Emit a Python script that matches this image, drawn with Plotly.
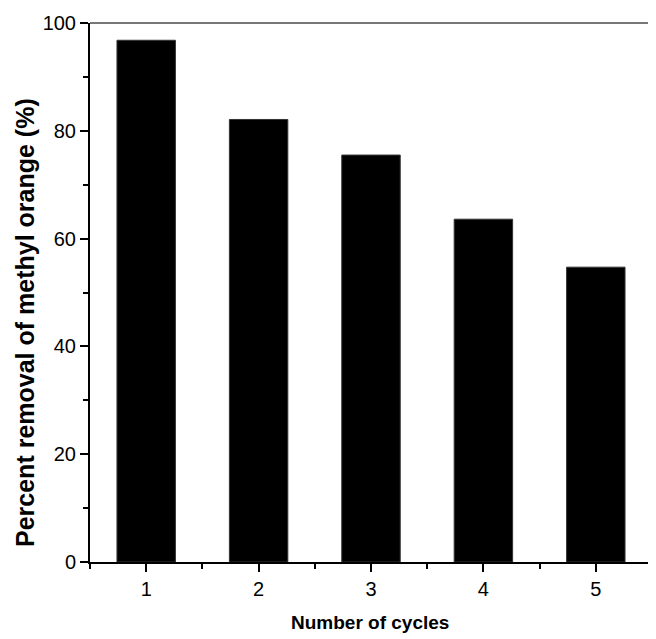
import plotly.graph_objects as go

cycles = [1, 2, 3, 4, 5]
removal = [96.8, 82.1, 75.5, 63.6, 54.7]
y_ticks = [0, 20, 40, 60, 80, 100]

font = "Liberation Sans, Arial, sans-serif"

# page has an 8px body margin, so the figure is sized 648x631 and shifted
W, H = 648, 631
L, R, T, B = 82, 4, 15, 77
pw, ph = W - L - R, H - T - B

fig = go.Figure()
fig.add_trace(go.Bar(
    x=cycles, y=removal, width=0.52,
    marker=dict(color="black", line=dict(color="#333333", width=1)),
))

fig.update_layout(
    width=W, height=H,
    margin=dict(l=L, r=R, t=T, b=B),
    plot_bgcolor="white", paper_bgcolor="white",
    showlegend=False,
    xaxis=dict(
        range=[0.5, 5.5], tickvals=cycles, ticktext=[str(c) for c in cycles],
        ticks="outside", ticklen=8, tickwidth=2, tickcolor="black",
        showline=True, linecolor="black", linewidth=2, showgrid=False, zeroline=False,
        minor=dict(tick0=0.5, dtick=1, ticks="outside", ticklen=5, tickwidth=2, tickcolor="black", showgrid=False),
        tickfont=dict(family=font, size=20, color="black"),
    ),
    yaxis=dict(
        range=[0, 100], tickvals=y_ticks,
        ticks="outside", ticklen=8, tickwidth=2, tickcolor="black",
        showline=True, linecolor="black", linewidth=2, showgrid=False, zeroline=False,
        minor=dict(tick0=10, dtick=20, ticks="outside", ticklen=5, tickwidth=2, tickcolor="black", showgrid=False),
        tickfont=dict(family=font, size=20, color="black"),
    ),
    shapes=[
        dict(type="line", xref="paper", yref="paper", x0=0, x1=1, y0=1, y1=1, line=dict(color="#777777", width=2)),
        dict(type="line", xref="paper", yref="paper", x0=1, x1=1, y0=0, y1=1, line=dict(color="#222222", width=2)),
    ],
    annotations=[
        dict(text="<b>Percent removal of methyl orange (%)</b>", textangle=-90,
             xref="paper", yref="paper", x=(25 - 90) / pw, y=(562 - 323) / ph,
             xanchor="center", yanchor="middle", showarrow=False,
             font=dict(family=font, size=25, color="black")),
        dict(text="<b>Number of cycles</b>",
             xref="paper", yref="paper", x=(370 - 90) / pw, y=(562 - 622) / ph,
             xanchor="center", yanchor="middle", showarrow=False,
             font=dict(family=font, size=19, color="black")),
    ],
)

fig.write_html("out.html")
